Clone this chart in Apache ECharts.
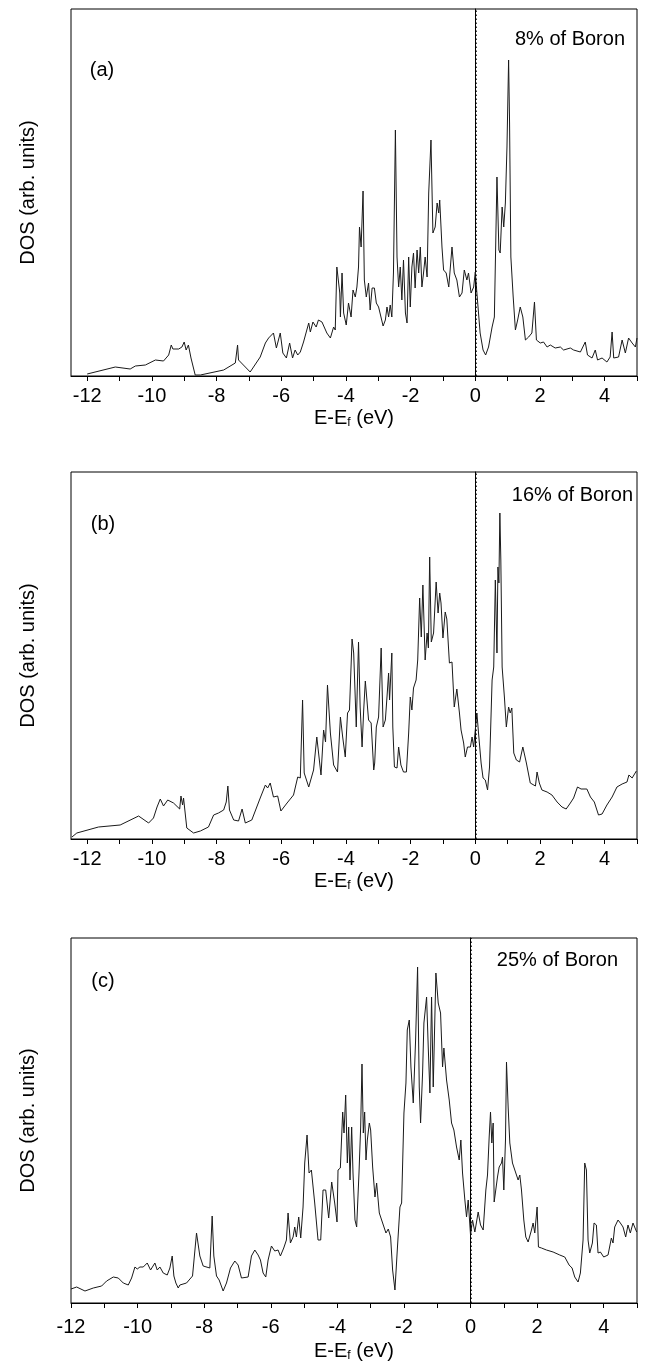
<!DOCTYPE html>
<html>
<head>
<meta charset="utf-8">
<script src="https://cdn.jsdelivr.net/npm/echarts@6/dist/echarts.min.js"></script>
<style>
html,body{margin:0;padding:0;background:#fff;}
#chart{width:646px;height:1364px;}
</style>
</head>
<body>
<div id="chart"></div>
<script>
// ---------- DATA (energy in eV, DOS in arbitrary units) ----------
var energyA = [-12.00,-11.13,-10.67,-10.51,-10.20,-9.89,-9.64,-9.48,-9.40,-9.35,-9.17,-9.07,-9.00,-8.94,-8.87,-8.79,-8.66,-8.50,-7.78,-7.42,-7.35,-7.32,-6.96,-6.65,-6.49,-6.39,-6.24,-6.15,-6.03,-5.95,-5.84,-5.74,-5.65,-5.57,-5.49,-5.41,-5.31,-5.15,-5.10,-5.02,-4.92,-4.85,-4.74,-4.59,-4.48,-4.38,-4.33,-4.28,-4.19,-4.17,-4.12,-4.07,-3.99,-3.92,-3.84,-3.78,-3.71,-3.66,-3.61,-3.58,-3.53,-3.47,-3.43,-3.37,-3.30,-3.25,-3.19,-3.12,-3.06,-2.99,-2.85,-2.78,-2.73,-2.68,-2.63,-2.58,-2.53,-2.47,-2.42,-2.37,-2.32,-2.27,-2.22,-2.16,-2.11,-2.06,-2.01,-1.96,-1.91,-1.86,-1.80,-1.75,-1.70,-1.65,-1.60,-1.55,-1.49,-1.44,-1.37,-1.31,-1.24,-1.18,-1.13,-1.10,-1.03,-0.98,-0.90,-0.82,-0.72,-0.65,-0.57,-0.49,-0.41,-0.34,-0.26,-0.21,-0.13,-0.05,0.00,0.05,0.15,0.24,0.32,0.41,0.52,0.59,0.67,0.73,0.77,0.83,0.88,0.93,0.98,1.03,1.06,1.10,1.17,1.24,1.31,1.39,1.47,1.55,1.65,1.75,1.80,1.83,1.89,2.01,2.11,2.22,2.32,2.47,2.63,2.73,2.94,3.04,3.25,3.40,3.47,3.61,3.71,3.78,3.92,4.07,4.17,4.23,4.28,4.43,4.54,4.64,4.74,4.85,4.95,5.00];
var dosA = [2,9,7,10,11,16,15,21,31,27,27,29,34,26,31,18,1,1,6,13,31,16,4,19,33,38,43,28,43,23,18,33,18,26,21,24,34,53,44,54,49,56,54,43,38,49,46,109,83,59,103,63,51,73,59,86,79,89,109,149,129,185,96,79,93,66,88,88,73,69,50,56,69,59,71,59,103,246,119,89,109,76,116,63,53,119,69,109,123,88,126,103,129,89,103,119,99,183,236,143,149,173,163,176,129,106,103,89,129,103,96,79,83,106,96,103,83,89,104,83,43,26,21,29,49,59,199,126,123,169,149,173,229,316,253,119,80,46,56,69,59,36,39,43,44,74,36,33,34,29,31,28,29,26,28,26,24,34,21,18,26,16,18,14,19,44,18,19,36,23,38,33,29,38];

var energyB = [-12.47,-12.32,-11.65,-10.98,-10.41,-10.10,-9.95,-9.84,-9.74,-9.64,-9.51,-9.33,-9.14,-9.10,-9.05,-9.02,-8.92,-8.71,-8.50,-8.25,-8.09,-7.94,-7.78,-7.70,-7.65,-7.60,-7.47,-7.32,-7.21,-7.11,-6.91,-6.65,-6.49,-6.42,-6.34,-6.24,-6.11,-6.01,-5.82,-5.62,-5.49,-5.41,-5.34,-5.29,-5.15,-5.00,-4.90,-4.85,-4.77,-4.69,-4.63,-4.57,-4.48,-4.38,-4.26,-4.17,-4.10,-4.02,-3.95,-3.89,-3.81,-3.76,-3.68,-3.61,-3.56,-3.50,-3.45,-3.40,-3.35,-3.30,-3.22,-3.14,-3.11,-3.06,-2.99,-2.91,-2.85,-2.78,-2.73,-2.68,-2.65,-2.58,-2.55,-2.50,-2.42,-2.37,-2.30,-2.22,-2.13,-2.06,-2.01,-1.96,-1.91,-1.83,-1.78,-1.72,-1.67,-1.62,-1.55,-1.49,-1.45,-1.41,-1.36,-1.29,-1.21,-1.15,-1.10,-1.06,-1.00,-0.93,-0.88,-0.80,-0.72,-0.65,-0.57,-0.49,-0.44,-0.36,-0.31,-0.24,-0.15,-0.10,-0.05,0.05,0.10,0.18,0.24,0.31,0.38,0.44,0.52,0.57,0.62,0.67,0.70,0.73,0.76,0.79,0.83,0.90,0.96,1.03,1.08,1.13,1.19,1.27,1.37,1.47,1.58,1.70,1.86,1.91,1.98,2.06,2.22,2.37,2.53,2.68,2.81,2.94,3.04,3.16,3.27,3.45,3.56,3.68,3.81,3.92,4.07,4.23,4.38,4.54,4.69,4.75,4.85,4.98];
var dosB = [2,6,12,14,23,16,21,32,40,33,39,36,30,43,34,41,11,6,8,12,24,26,29,37,53,29,19,18,30,16,19,41,54,51,56,42,43,28,36,44,62,61,139,66,52,69,102,104,64,109,97,154,106,74,67,122,102,82,126,129,200,186,112,197,132,92,129,158,139,119,116,69,76,112,122,191,112,119,142,166,139,186,112,72,71,92,74,67,67,106,142,129,151,159,179,241,202,254,179,206,191,282,197,206,257,226,246,236,201,227,220,176,177,132,150,126,109,96,82,92,92,102,92,126,106,76,61,59,49,72,159,172,259,186,272,256,326,279,172,142,112,132,126,131,86,79,77,92,76,56,53,67,56,49,47,44,37,32,30,36,41,52,50,50,42,37,24,25,34,42,52,55,57,64,61,68];

var energyC = [-12.00,-11.83,-11.58,-11.33,-11.08,-10.93,-10.73,-10.58,-10.43,-10.28,-10.18,-10.08,-10.01,-9.93,-9.83,-9.71,-9.61,-9.48,-9.41,-9.33,-9.23,-9.11,-9.03,-8.96,-8.91,-8.85,-8.78,-8.73,-8.53,-8.35,-8.23,-8.13,-8.03,-7.83,-7.76,-7.71,-7.63,-7.55,-7.43,-7.33,-7.21,-7.08,-6.98,-6.88,-6.68,-6.58,-6.48,-6.38,-6.31,-6.23,-6.15,-6.08,-5.98,-5.88,-5.78,-5.71,-5.61,-5.53,-5.48,-5.41,-5.33,-5.28,-5.23,-5.16,-5.10,-5.03,-4.98,-4.91,-4.85,-4.78,-4.68,-4.58,-4.50,-4.43,-4.35,-4.26,-4.17,-4.08,-4.01,-3.98,-3.91,-3.84,-3.80,-3.75,-3.70,-3.66,-3.62,-3.57,-3.53,-3.47,-3.42,-3.35,-3.30,-3.26,-3.22,-3.18,-3.14,-3.10,-3.04,-3.00,-2.94,-2.87,-2.82,-2.74,-2.64,-2.54,-2.47,-2.40,-2.34,-2.27,-2.20,-2.12,-2.07,-2.00,-1.94,-1.90,-1.84,-1.79,-1.72,-1.65,-1.59,-1.54,-1.50,-1.44,-1.40,-1.32,-1.27,-1.22,-1.17,-1.12,-1.04,-0.97,-0.90,-0.84,-0.80,-0.72,-0.64,-0.57,-0.50,-0.42,-0.34,-0.29,-0.24,-0.17,-0.12,-0.07,0.00,0.06,0.13,0.23,0.30,0.38,0.46,0.51,0.56,0.60,0.64,0.68,0.71,0.76,0.81,0.86,0.93,0.96,1.00,1.05,1.08,1.13,1.18,1.26,1.36,1.43,1.48,1.53,1.60,1.66,1.73,1.83,1.88,1.93,2.00,2.04,2.13,2.28,2.48,2.68,2.83,2.96,3.05,3.13,3.23,3.30,3.38,3.43,3.48,3.53,3.58,3.66,3.71,3.78,3.83,3.90,4.00,4.13,4.23,4.28,4.33,4.43,4.50,4.58,4.66,4.73,4.80,4.88,4.99];
var dosC = [14,16,12,15,17,22,26,25,20,18,25,36,34,36,36,40,33,40,33,36,30,28,35,47,27,20,15,18,20,27,70,47,37,35,87,47,27,23,12,20,35,42,38,25,26,47,53,48,43,30,26,43,57,52,53,47,55,63,90,60,66,76,66,86,65,96,140,168,130,133,100,63,63,113,113,85,121,100,81,133,135,191,170,208,140,176,123,176,130,83,76,130,176,239,170,191,143,163,180,173,136,106,120,90,80,70,74,66,33,13,53,96,100,190,220,273,283,236,200,263,336,216,180,230,280,306,256,210,306,216,330,300,290,236,255,223,203,180,173,156,143,163,130,103,86,103,68,83,71,91,78,73,113,128,166,191,160,180,101,100,126,136,140,146,113,163,241,196,160,140,130,123,128,113,83,66,61,73,80,70,96,56,55,53,51,48,46,38,35,26,21,30,63,140,133,63,50,60,80,78,50,51,46,48,65,60,76,83,80,76,66,78,70,80,71];

var panelTags = ['(a)', '(b)', '(c)'];
var panelTitles = ['8% of Boron', '16% of Boron', '25% of Boron'];
var tickValues = [-12,-11,-10,-9,-8,-7,-6,-5,-4,-3,-2,-1,0,1,2,3,4,5];
var labelValues = [-12,-10,-8,-6,-4,-2,0,2,4];
var xRanges = [[-12.5, 5], [-12.5, 5], [-12, 5]];
// ---------------------------------------------------------------

var FONT = 'Liberation Sans, Arial, Helvetica, sans-serif';
function pairs(xs, ys){ var out=[]; for(var i=0;i<xs.length;i++){ out.push([xs[i], ys[i]]); } return out; }

var grids = [
  {left:71, top:9,   width:566, height:367},
  {left:71, top:472, width:566, height:367},
  {left:71, top:938, width:566, height:365}
];
var labelMargins = [10, 10, 14];
var nameGaps = [31, 31, 37];
var series = [[energyA,dosA],[energyB,dosB],[energyC,dosC]];

var option = {
  animation:false,
  backgroundColor:'#fff',
  grid: grids.map(function(g){ return Object.assign({show:true, borderColor:'#000', borderWidth:1, backgroundColor:'transparent', containLabel:false}, g); }),
  xAxis: grids.map(function(g,i){ return {
    gridIndex:i, type:'value', min:xRanges[i][0], max:xRanges[i][1],
    axisLine:{show:true, onZero:false, lineStyle:{color:'#000', width:1}},
    axisTick:{show:true, inside:false, length:5, lineStyle:{color:'#000', width:1}, customValues:tickValues},
    axisLabel:{show:true, customValues:labelValues, margin:labelMargins[i], color:'#000', fontSize:20, fontFamily:FONT, showMinLabel:true, showMaxLabel:true},
    splitLine:{show:false},
    name:'{m|E-E}{s|f}{m| (eV)}', nameLocation:'middle', nameGap:nameGaps[i],
    nameTextStyle:{color:'#000', fontSize:20, fontFamily:FONT,
      rich:{ m:{fontSize:20, fontFamily:FONT, color:'#000'},
             s:{fontSize:12, fontFamily:FONT, color:'#000', padding:[10,0,0,0]} } }
  }; }),
  yAxis: grids.map(function(g,i){ return {
    gridIndex:i, type:'value', min:0, max:g.height,
    axisLine:{show:true, lineStyle:{color:'#000', width:1}},
    axisTick:{show:false}, axisLabel:{show:false}, splitLine:{show:false},
    name:'DOS (arb. units)', nameLocation:'middle', nameGap:33, nameRotate:90,
    nameTextStyle:{color:'#000', fontSize:20, fontFamily:FONT}
  }; }),
  series: series.map(function(s,i){ return {
    type:'line', xAxisIndex:i, yAxisIndex:i, data:pairs(s[0], s[1]),
    showSymbol:false, symbol:'none', smooth:false,
    lineStyle:{color:'#1a1a1a', width:1}, silent:true,
    markLine:{ silent:true, symbol:['none','none'], label:{show:false},
      lineStyle:{type:[1.5,2.5], color:'#000', width:1.5},
      data:[{xAxis:0}] }
  }; }),
  graphic: [
    {type:'text', x:102, y:70,  style:{text:panelTags[0], align:'center', verticalAlign:'middle', font:'20px ' + FONT, fill:'#000'}},
    {type:'text', x:103, y:524, style:{text:panelTags[1], align:'center', verticalAlign:'middle', font:'20px ' + FONT, fill:'#000'}},
    {type:'text', x:103, y:981, style:{text:panelTags[2], align:'center', verticalAlign:'middle', font:'20px ' + FONT, fill:'#000'}},
    {type:'text', x:625, y:39,  style:{text:panelTitles[0], align:'right', verticalAlign:'middle', font:'20px ' + FONT, fill:'#000'}},
    {type:'text', x:633, y:495, style:{text:panelTitles[1], align:'right', verticalAlign:'middle', font:'20px ' + FONT, fill:'#000'}},
    {type:'text', x:618, y:960, style:{text:panelTitles[2], align:'right', verticalAlign:'middle', font:'20px ' + FONT, fill:'#000'}}
  ]
};

var chart = echarts.init(document.getElementById('chart'), null, {renderer:'canvas'});
chart.setOption(option);
</script>
</body>
</html>
